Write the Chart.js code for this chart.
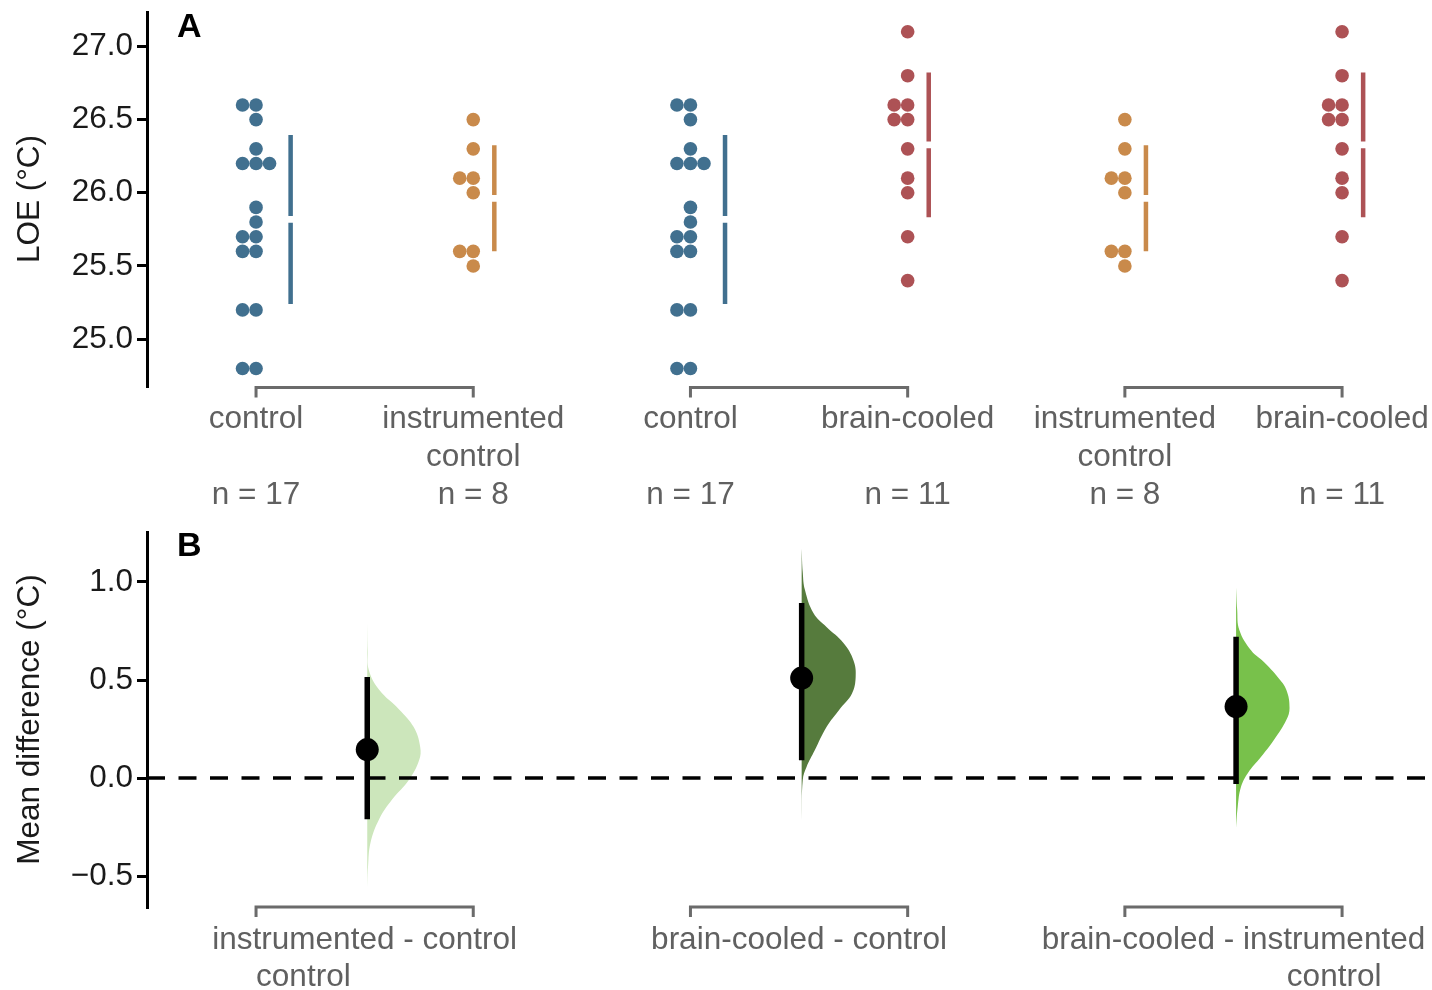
<!DOCTYPE html>
<html><head><meta charset="utf-8">
<script src="https://cdn.jsdelivr.net/npm/chart.js@4.4.1/dist/chart.umd.min.js"></script>
<style>
html,body{margin:0;padding:0;background:#fff;width:1432px;height:990px;overflow:hidden}
#wa{position:absolute;left:0;top:0;width:1432px;height:515px}
#wb{position:absolute;left:0;top:515px;width:1432px;height:475px}
canvas{display:block}
</style></head><body>
<div id="wa"><canvas id="ca"></canvas></div>
<div id="wb"><canvas id="cb"></canvas></div>
<script>
// ---------------- data ----------------
const controlLOE = [26.6,26.6,26.5,26.3,26.2,26.2,26.2,25.9,25.8,25.7,25.7,25.6,25.6,25.2,25.2,24.8,24.8];
const instrumentedLOE = [26.5,26.3,26.1,26.1,26.0,25.6,25.6,25.5];
const brainCooledLOE = [27.1,26.8,26.6,26.6,26.5,26.5,26.3,26.1,26.0,25.7,25.4];

const panelAGroups = [controlLOE, instrumentedLOE, controlLOE, brainCooledLOE, instrumentedLOE, brainCooledLOE];
const panelAKinds = ['control','instrumented','control','brain','instrumented','brain'];
const panelANameLines = [['control',''],['instrumented','control'],['control',''],['brain-cooled',''],['instrumented','control'],['brain-cooled','']];
const yTicksA = [25.0, 25.5, 26.0, 26.5, 27.0];

const comparisons = [[1,2],[3,4],[5,6]];          // positions (control, test) in panel A
const diffLabelLines = [['instrumented - control','control'],['brain-cooled - control',''],['brain-cooled - instrumented','control']];
const diffLine2Anchor = ['instrumented', null, 'instrumented'];
const ciLow  = [-0.21, 0.09, -0.03];
const ciHigh = [0.515, 0.893, 0.72];
const yTicksB = [-0.5, 0.0, 0.5, 1.0];

// bootstrap density outlines (y value, relative density)
const violin1Y = [0.79,0.65,0.55,0.45,0.35,0.26,0.16,0.09,-0.01,-0.11,-0.21,-0.33,-0.45,-0.56];
const violin1D = [0,0.01,0.03,0.22,0.59,0.86,0.98,0.96,0.77,0.46,0.22,0.06,0.015,0];
const violin2Y = [1.17,1.05,0.96,0.84,0.77,0.69,0.60,0.515,0.43,0.35,0.26,0.14,0.056,-0.01,-0.22];
const violin2D = [0,0.02,0.06,0.22,0.46,0.77,0.96,1.0,0.93,0.70,0.46,0.24,0.09,0.02,0];
const violin3Y = [0.97,0.86,0.755,0.65,0.59,0.515,0.45,0.357,0.296,0.194,0.107,0.026,-0.046,-0.148,-0.255];
const violin3D = [0,0.02,0.06,0.28,0.52,0.77,0.93,0.99,0.93,0.70,0.46,0.22,0.09,0.03,0];

// ---------------- styles ----------------
const FONT = "'Liberation Sans', Arial, Helvetica, sans-serif";
const FS = 31.5;
const COLORS = {control:'#41708f', instrumented:'#c98a4b', brain:'#ad5255'};
const VIOLIN_COLORS = ['#cce6bb', '#567b3d', '#78c14b'];
const LABEL_GREY = '#606060';
const X_MIN = 0.498, X_MAX = 6.414;
const SWARM_STEP = 0.0622, BAR_SHIFT = 0.097, BAR_GAP = 0.023;
const VIOLIN_W = 0.2486, EFFECT_SHIFT = 0.012;

const mean = a => a.reduce((s,v)=>s+v,0)/a.length;
const sd = a => { const m = mean(a); return Math.sqrt(a.reduce((s,v)=>s+(v-m)*(v-m),0)/(a.length-1)); };
const fmt = v => (v < 0 ? '\u2212' : '') + Math.abs(v).toFixed(1);

// ---------------- panel A datasets ----------------
const dsA = [];
panelAGroups.forEach((g, i) => {
  const pos = i + 1;
  const seq = [0,-1,1,-2,2,-3,3];
  const counts = {};
  let maxOff = 0;
  const pts = g.map(v => {
    const k = v.toFixed(2);
    const c = counts[k] || 0; counts[k] = c + 1;
    const off = seq[c];
    if (off > maxOff) maxOff = off;
    return {x: pos + off*SWARM_STEP, y: v};
  });
  const col = COLORS[panelAKinds[i]];
  dsA.push({data: pts, backgroundColor: col, borderWidth: 0, pointRadius: 6.8, pointHoverRadius: 6.8});
  const m = mean(g), s = sd(g), bx = pos + maxOff*SWARM_STEP + BAR_SHIFT;
  dsA.push({data: [{x:bx,y:m+s},{x:bx,y:m+BAR_GAP},{x:bx,y:null},{x:bx,y:m-BAR_GAP},{x:bx,y:m-s}],
    showLine: true, spanGaps: false, borderColor: col, borderWidth: 4.5, borderCapStyle: 'butt', pointRadius: 0});
});

const bracketPlugin = (yOffset) => ({
  id: 'brackets',
  afterDraw(chart) {
    const {ctx, chartArea, scales} = chart;
    ctx.save();
    ctx.strokeStyle = '#6b6b6b'; ctx.lineWidth = 3; ctx.lineJoin = 'miter'; ctx.lineCap = 'butt';
    const y = chartArea.bottom + yOffset;
    comparisons.forEach(([a,b]) => {
      const x1 = scales.x.getPixelForValue(a), x2 = scales.x.getPixelForValue(b);
      ctx.beginPath(); ctx.moveTo(x1, y+10); ctx.lineTo(x1, y); ctx.lineTo(x2, y); ctx.lineTo(x2, y+10); ctx.stroke();
    });
    ctx.restore();
  }
});
const panelLetter = (letter, x, y) => ({
  id: 'letter' + letter,
  afterDraw(chart) {
    const ctx = chart.ctx; ctx.save();
    ctx.font = "bold 34px " + FONT; ctx.fillStyle = '#000'; ctx.textBaseline = 'alphabetic'; ctx.textAlign = 'left';
    ctx.fillText(letter, x, y); ctx.restore();
  }
});

const yAxisCommon = (title, ticks, min, max) => ({
  type: 'linear', min, max,
  afterBuildTicks: s => { s.ticks = ticks.map(v => ({value: v})); },
  afterFit: s => { s.width = 147; s.paddingTop = 0; s.paddingBottom = 0; },
  grid: {drawOnChartArea: false, drawTicks: true, tickLength: 10, tickColor: '#000', tickWidth: 3, color: '#000', lineWidth: 3},
  border: {display: true, color: '#000', width: 3},
  ticks: {font: {family: FONT, size: FS}, color: '#1a1a1a', padding: 4, autoSkip: false, callback: v => fmt(v)},
  title: {display: true, text: title, font: {family: FONT, size: FS}, color: '#1a1a1a', padding: {top: 11, bottom: 0}}
});

new Chart(document.getElementById('ca'), {
  type: 'scatter',
  data: {datasets: dsA},
  options: {
    responsive: true, maintainAspectRatio: false, animation: false, events: [],
    layout: {padding: {top: 12, right: 0, bottom: 0, left: 0}, autoPadding: false},
    plugins: {legend: {display: false}, tooltip: {enabled: false}},
    scales: {
      x: {type: 'linear', min: X_MIN, max: X_MAX,
        afterBuildTicks: s => { s.ticks = panelAGroups.map((g,i) => ({value: i+1})); },
        afterFit: s => { s.height = 515 - 386; s.paddingLeft = 0; s.paddingRight = 0; },
        grid: {display: false, drawTicks: false},
        border: {display: false},
        ticks: {font: {family: FONT, size: FS, lineHeight: 1.21}, color: LABEL_GREY, padding: 14, maxRotation: 0, autoSkip: false,
          callback: (v, i) => panelANameLines[i].concat(['n = ' + panelAGroups[i].length])}
      },
      y: yAxisCommon('LOE (\u00B0C)', yTicksA, 24.68, 27.235)
    }
  },
  plugins: [bracketPlugin(1.5), panelLetter('A', 177, 37)]
});

// ---------------- panel B datasets ----------------
const violins = [[violin1Y, violin1D], [violin2Y, violin2D], [violin3Y, violin3D]];
const effX = comparisons.map(([a,b]) => (a+b)/2 + EFFECT_SHIFT);
const diffs = comparisons.map(([a,b]) => mean(panelAGroups[b-1]) - mean(panelAGroups[a-1]));

const dsB = [];
dsB.push({data: effX.map((x,i) => ({x, y: diffs[i]})), backgroundColor: '#000', borderWidth: 0, pointRadius: 11.5, pointHoverRadius: 11.5});
const ciPts = [];
effX.forEach((x,i) => { ciPts.push({x, y: ciHigh[i]}, {x, y: ciLow[i]}, {x, y: null}); });
dsB.push({data: ciPts, showLine: true, spanGaps: false, borderColor: '#000', borderWidth: 5.5, borderCapStyle: 'butt', pointRadius: 0});
dsB.push({data: [{x: X_MIN, y: 0}, {x: X_MAX, y: 0}], showLine: true, borderColor: '#000', borderWidth: 3.5, borderDash: [18, 13.5], pointRadius: 0});
violins.forEach(([ys, ds], i) => {
  dsB.push({data: ys.map((y,k) => ({x: effX[i] + ds[k]*VIOLIN_W, y})), showLine: true, fill: 'shape', tension: 0.4,
    backgroundColor: VIOLIN_COLORS[i], borderColor: 'rgba(0,0,0,0)', borderWidth: 0, pointRadius: 0});
});

const diffLabelsPlugin = {
  id: 'diffLabels',
  afterDraw(chart) {
    const {ctx, chartArea, scales} = chart;
    ctx.save();
    ctx.font = FS + "px " + FONT; ctx.fillStyle = LABEL_GREY; ctx.textBaseline = 'middle'; ctx.textAlign = 'left';
    const y1 = chartArea.bottom + 33, y2 = chartArea.bottom + 70;
    comparisons.forEach(([a,b], i) => {
      const cx = scales.x.getPixelForValue((a+b)/2);
      const [l1, l2] = diffLabelLines[i];
      const w1 = ctx.measureText(l1).width;
      const left = cx - w1/2;
      ctx.fillText(l1, left, y1);
      if (l2) {
        const word = diffLine2Anchor[i];
        const idx = l1.indexOf(word);
        const wc = left + ctx.measureText(l1.slice(0, idx)).width + ctx.measureText(word).width/2;
        ctx.fillText(l2, wc - ctx.measureText(l2).width/2, y2);
      }
    });
    ctx.restore();
  }
};

new Chart(document.getElementById('cb'), {
  type: 'scatter',
  data: {datasets: dsB},
  options: {
    responsive: true, maintainAspectRatio: false, animation: false, events: [],
    layout: {padding: {top: 17, right: 0, bottom: 83, left: 0}, autoPadding: false},
    plugins: {legend: {display: false}, tooltip: {enabled: false}},
    scales: {
      x: {type: 'linear', min: X_MIN, max: X_MAX, display: false},
      y: yAxisCommon('Mean difference (\u00B0C)', yTicksB, -0.658, 1.255)
    }
  },
  plugins: [bracketPlugin(0), diffLabelsPlugin, panelLetter('B', 177, 41)]
});
</script>
</body></html>
